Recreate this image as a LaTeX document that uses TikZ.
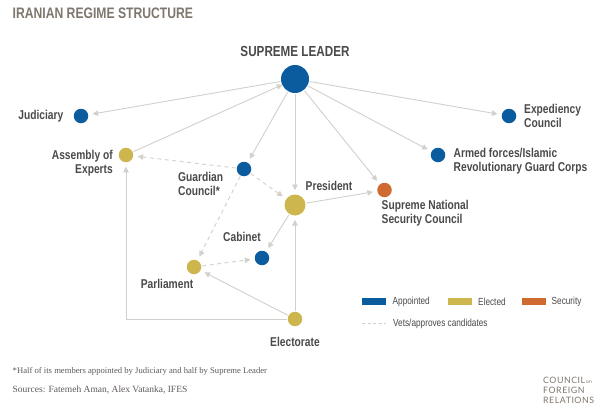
\documentclass[tikz,border=0pt]{standalone}
\usepackage{fontspec}
\setmainfont{Liberation Serif}
\setsansfont{Liberation Sans}
\newfontfamily\narrowbold[FakeStretch=0.80]{Liberation Sans Bold}
\newfontfamily\narrowreg[FakeStretch=0.80]{Liberation Sans}
\newfontfamily\logofont[LetterSpace=6]{Lato}
\usetikzlibrary{arrows.meta}
\definecolor{blueN}{HTML}{0B5C9E}
\definecolor{goldN}{HTML}{CDB64E}
\definecolor{orangeN}{HTML}{CF6A30}
\definecolor{lineC}{HTML}{D2D0CA}
\definecolor{labelC}{HTML}{4A4A4C}
\definecolor{titleC}{HTML}{7F766D}
\definecolor{noteC}{HTML}{5F5B58}
\tikzset{
  dotnode/.style={circle,inner sep=0pt,outer sep=0pt,minimum size=#1},
  bluedot/.style={dotnode=#1,fill=blueN},
  golddot/.style={dotnode=#1,fill=goldN},
  orangedot/.style={dotnode=#1,fill=orangeN},
  conn/.style={draw=lineC,line width=0.9pt,-{Triangle[length=5.5pt,width=5.5pt]},shorten >=4.5pt,shorten <=1pt},
  vets/.style={conn,dash pattern=on 4pt off 3.5pt},
  lab/.style={font=\narrowbold\fontsize{12.8}{13.6}\selectfont,text=labelC,inner sep=0pt},
  legendtext/.style={font=\narrowreg\fontsize{10.3}{11}\selectfont,text=labelC,inner sep=0pt,anchor=west},
  swatch/.style={minimum width=24pt,minimum height=7pt,inner sep=0pt},
}
\begin{document}
\begin{tikzpicture}[x=1pt,y=-1pt]
\useasboundingbox[fill=white] (0,0) rectangle (597,404);
% nodes
\node[bluedot=28pt] (leader) at (295,79) {};
\node[bluedot=14.5pt] (jud) at (81,116) {};
\node[golddot=14.5pt] (assembly) at (126,155) {};
\node[bluedot=14.5pt] (guardian) at (244,169) {};
\node[golddot=21pt] (president) at (295,205) {};
\node[orangedot=14.5pt] (nsc) at (384.5,190) {};
\node[bluedot=14.5pt] (armed) at (438,155) {};
\node[bluedot=14.5pt] (exped) at (509,116) {};
\node[bluedot=14.5pt] (cabinet) at (262,258) {};
\node[golddot=14.5pt] (parliament) at (194,267) {};
\node[golddot=14.5pt] (electorate) at (295,319) {};
% connectors
\draw[conn] (leader) -- (jud);
\draw[conn,shorten >=0pt] (assembly) -- (leader);
\draw[conn] (leader) -- (guardian);
\draw[conn] (leader) -- (president);
\draw[conn] (leader) -- (nsc);
\draw[conn] (leader) -- (armed);
\draw[conn] (leader) -- (exped);
\draw[conn] (president) -- (nsc);
\draw[conn] (president) -- (cabinet);
\draw[conn] (electorate) -- (president);
\draw[conn] (electorate) -- (parliament);
\draw[conn] (electorate.west) -| (assembly);
\draw[vets] (guardian) -- (assembly);
\draw[vets] (guardian) -- (president);
\draw[vets] (guardian) -- (parliament);
\draw[vets] (parliament) -- (cabinet);
% labels
\node[font=\narrowbold\fontsize{15.2}{17}\selectfont,text=titleC,inner sep=0pt,anchor=west] (title) at (12.5,13.5) {IRANIAN REGIME STRUCTURE};
\node[font=\narrowbold\fontsize{14.6}{16}\selectfont,text=labelC,inner sep=0pt] (leaderlab) at (295,51) {SUPREME LEADER};
\node[lab,anchor=east] (judlab) at (63.5,116) {Judiciary};
\node[lab,anchor=east,align=right] (asslab) at (113,163) {Assembly of\\Experts};
\node[lab,anchor=west,align=left] (guardlab) at (178,184) {Guardian\\Council*};
\node[lab,anchor=west] (preslab) at (305.5,185.5) {President};
\node[lab,anchor=west,align=left] (nsclab) at (381.5,213) {Supreme National\\Security Council};
\node[lab,anchor=west,align=left] (armedlab) at (453.5,161) {Armed forces/Islamic\\Revolutionary Guard Corps};
\node[lab,anchor=west,align=left] (explab) at (524,116) {Expediency\\Council};
\node[lab] (cablab) at (242,237) {Cabinet};
\node[lab] (parlab) at (167,283.5) {Parliament};
\node[lab] (ellab) at (295,342) {Electorate};
% legend
\node[swatch,fill=blueN] (s1) at (374,301.5) {};
\node[legendtext] (t1) at (392.5,301.5) {Appointed};
\node[swatch,fill=goldN] (s2) at (460,301.5) {};
\node[legendtext] (t2) at (478,301.5) {Elected};
\node[swatch,fill=orangeN] (s3) at (533.5,301.5) {};
\node[legendtext] (t3) at (551.5,301.5) {Security};
\coordinate (d1) at (362,323.5);
\coordinate (d2) at (386,323.5);
\draw[draw=lineC,line width=0.9pt,dash pattern=on 3pt off 2.5pt] (d1) -- (d2);
\node[legendtext] (t4) at (393,323.5) {Vets/approves candidates};
% notes
\node[font=\fontsize{8.65}{10}\selectfont,text=noteC,inner sep=0pt,anchor=west] (note) at (12.5,371.5) {*Half of its members appointed by Judiciary and half by Supreme Leader};
\node[font=\fontsize{9.5}{10}\selectfont,text=noteC,inner sep=0pt,anchor=west] (src) at (12.5,389.5) {Sources: Fatemeh Aman, Alex Vatanka, IFES};
\node[font=\logofont\fontsize{8.8}{9.8}\selectfont,text=titleC,inner sep=0pt,anchor=north west,align=left] (logo) at (543,377) {COUNCIL{\fontsize{5}{5}\selectfont\,on}\\FOREIGN\\RELATIONS};
\end{tikzpicture}
\end{document}
